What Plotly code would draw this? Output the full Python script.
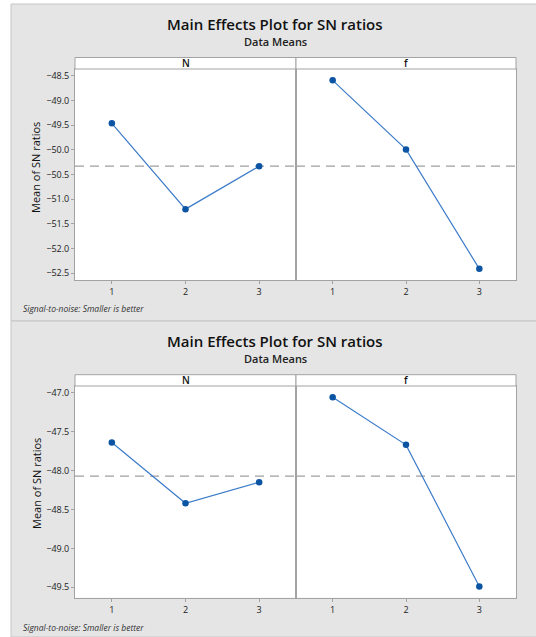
import plotly.graph_objects as go

W, H = 536, 637

levels = [1, 2, 3]
tick_text = ["1", "2", "3"]
factors = ["N", "f"]

top_N = [-49.46, -51.20, -50.33]
top_f = [-48.59, -49.99, -52.41]
bot_N = [-47.64, -48.42, -48.15]
bot_f = [-47.06, -47.67, -49.49]

title_text = "Main Effects Plot for SN ratios"
subtitle_text = "Data Means"
ytitle_text = "Mean of SN ratios"
foot_text = "Signal-to-noise: Smaller is better"

FONT = "Open Sans"
BG = "#e5e5e5"
AX = "#a3a3a3"
LINE_C = "#3d7cc9"
MARK_C = "#0b54a4"


def px(x):
    return x / W


def py(y):
    return 1 - y / H


fig = go.Figure()

panels = [
    dict(N=top_N, f=top_f, top=69, bot=280, strip=57.5, yr=[-52.636, -48.36],
         ty=24, sy=42, fy=308, yty=168, bg=(4, 321)),
    dict(N=bot_N, f=bot_f, top=386, bot=597.7, strip=374.7, yr=[-49.633, -46.914],
         ty=341, sy=358, fy=627, yty=484, bg=(321, 637)),
]

xl, xm, xr = 75, 296, 516
bg_shapes = []
white_shapes = []
mean_shapes = []
top_shapes = []
annotations = []
layout_axes = {}
ax_i = 0
for p_i, p in enumerate(panels):
    bg_shapes.append(dict(type="rect", xref="paper", yref="paper", layer="below",
                          x0=px(11), x1=px(W + 2), y0=py(p["bg"][1]), y1=py(p["bg"][0]),
                          fillcolor=BG, line=dict(color="#c6c6c6", width=1)))
    white_shapes.append(dict(type="rect", xref="paper", yref="paper", layer="below",
                             x0=px(xl), x1=px(xr), y0=py(p["bot"]), y1=py(p["top"]),
                             fillcolor="white", line=dict(width=0)))
    mean_val = sum(p["N"] + p["f"]) / 6.0
    for f_i, (fac, vals) in enumerate(zip(factors, [p["N"], p["f"]])):
        ax_i += 1
        sx = "" if ax_i == 1 else str(ax_i)
        x0, x1 = (xl, xm) if f_i == 0 else (xm, xr)
        layout_axes["xaxis" + sx] = dict(
            domain=[px(x0), px(x1)], anchor="y" + sx, range=[0.5, 3.5],
            tickvals=levels, ticktext=tick_text, ticks="outside", ticklen=3,
            tickcolor=AX, showline=True, linecolor=AX, linewidth=1, mirror=True,
            showgrid=False, zeroline=False,
            tickfont=dict(family=FONT, size=9, color="#222"))
        layout_axes["yaxis" + sx] = dict(
            domain=[py(p["bot"]), py(p["top"])], anchor="x" + sx, range=p["yr"],
            dtick=0.5, tickformat=".1f", ticks="outside" if f_i == 0 else "",
            ticklen=3, tickcolor=AX, showticklabels=(f_i == 0),
            showline=True, linecolor=AX, linewidth=1, mirror=True,
            showgrid=False, zeroline=False,
            tickfont=dict(family=FONT, size=9, color="#222"))
        fig.add_trace(go.Scatter(
            x=levels, y=vals, mode="lines+markers", xaxis="x" + sx, yaxis="y" + sx,
            line=dict(color=LINE_C, width=1.2),
            marker=dict(color=MARK_C, size=6.5, symbol="circle"),
            showlegend=False, hoverinfo="x+y"))
        mean_shapes.append(dict(type="line", xref="x" + sx + " domain", yref="y" + sx,
                                layer="below", x0=0, x1=1, y0=mean_val, y1=mean_val,
                                line=dict(color="#a0a0a0", width=1.2, dash="9px,6px")))
        top_shapes.append(dict(type="rect", xref="paper", yref="paper",
                               x0=px(x0), x1=px(x1), y0=py(p["top"]), y1=py(p["strip"]),
                               fillcolor="white", line=dict(color=AX, width=1)))
        annotations.append(dict(text=fac, xref="paper", yref="paper",
                                x=px((x0 + x1) / 2), y=py((p["top"] + p["strip"]) / 2),
                                showarrow=False, xanchor="center", yanchor="middle",
                                font=dict(family=FONT, size=10, color="#111", weight=600)))
    annotations.append(dict(text=title_text, xref="paper", yref="paper",
                            x=px(275), y=py(p["ty"]), showarrow=False,
                            xanchor="center", yanchor="middle",
                            font=dict(family=FONT, size=15, color="#111", weight=600)))
    annotations.append(dict(text=subtitle_text, xref="paper", yref="paper",
                            x=px(275), y=py(p["sy"]), showarrow=False,
                            xanchor="center", yanchor="middle",
                            font=dict(family=FONT, size=11, color="#222", weight=600)))
    annotations.append(dict(text="<i>" + foot_text + "</i>", xref="paper", yref="paper",
                            x=px(21), y=py(p["fy"]), showarrow=False,
                            xanchor="left", yanchor="middle",
                            font=dict(family=FONT, size=8.5, color="#333")))
    annotations.append(dict(text=ytitle_text, xref="paper", yref="paper",
                            x=px(36), y=py(p["yty"]), showarrow=False, textangle=-90,
                            xanchor="center", yanchor="middle",
                            font=dict(family=FONT, size=11, color="#111")))

fig.update_layout(
    width=W, height=H, margin=dict(l=0, r=0, t=0, b=0),
    paper_bgcolor="white", plot_bgcolor="white",
    shapes=bg_shapes + white_shapes + mean_shapes + top_shapes,
    annotations=annotations, showlegend=False,
    **layout_axes)

fig.write_html("out.html",
               config={"displayModeBar": False},
               post_script="document.body.style.margin='0px';"
                           "document.body.style.overflow='hidden';")
